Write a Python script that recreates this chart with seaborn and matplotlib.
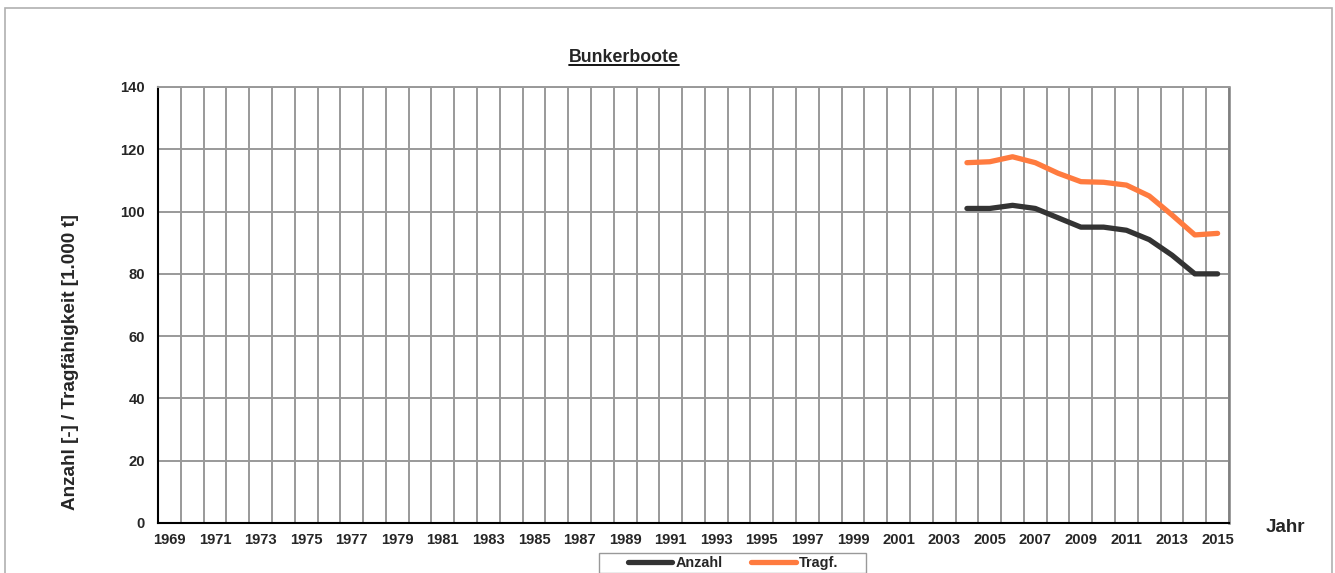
import pandas as pd
import seaborn as sns
import numpy as np
import matplotlib.pyplot as plt
from matplotlib import font_manager as fm
from matplotlib.patches import Rectangle

years = list(range(2004, 2016))
anzahl = [101, 101, 102, 101, 98, 95, 95, 94, 91, 86, 80, 80]
tragf = [115.7, 116.0, 117.6, 115.7, 112.3, 109.6, 109.4, 108.5, 105.0, 98.9, 92.5, 93.0]
label_years = list(range(1969, 2016, 2))
y_ticks = [0, 20, 40, 60, 80, 100, 120, 140]

df = pd.DataFrame({
    "Jahr": years * 2,
    "Wert": anzahl + tragf,
    "Reihe": ["Anzahl"] * len(years) + ["Tragf."] * len(years),
})

sns.set_style("white")

# pick the regular-width Liberation Sans bold file (not the Narrow one)
bold_file = None
for f in fm.findSystemFonts():
    if f.endswith("LiberationSans-Bold.ttf"):
        bold_file = f
        break
if bold_file:
    fm.fontManager.addfont(bold_file)
    fam = fm.FontProperties(fname=bold_file).get_name()
else:
    fam = "DejaVu Sans"
plt.rcParams["font.family"] = [fam, "DejaVu Sans"]
plt.rcParams["font.weight"] = "bold"


def fp(size):
    if bold_file:
        return fm.FontProperties(fname=bold_file, size=size)
    return fm.FontProperties(family="DejaVu Sans", weight="bold", size=size)


fig = plt.figure(figsize=(13.35, 5.73), dpi=100)
fig.patches.append(Rectangle((5 / 1335, -0.1), 1327 / 1335, 1.1 - 8 / 573,
                             transform=fig.transFigure, fill=False,
                             edgecolor="#b0b0b0", linewidth=1.2))
ax = fig.add_axes([158 / 1335, 1 - 523 / 573, 1071 / 1335, 436 / 573])

sns.lineplot(data=df, x="Jahr", y="Wert", hue="Reihe", ax=ax,
             palette={"Anzahl": "#333333", "Tragf.": "#ff7b3f"},
             linewidth=3.8, legend=False)
for line in ax.get_lines():
    line.set_solid_capstyle("round")
    line.set_solid_joinstyle("round")

ax.set_xlim(1968.5, 2015.5)
ax.set_ylim(0, 140)

# category boundaries carry the grid, labels sit in the middle of a year
ax.set_xticks(np.arange(1968.5, 2016, 1.0))
ax.set_xticklabels([])
ax.set_xticks(label_years, minor=True)
ax.set_xticklabels([str(y) for y in label_years], minor=True, fontproperties=fp(10.6))
ax.tick_params(axis="x", which="major", length=5, width=1.3, color="#999999",
               direction="out")
ax.tick_params(axis="x", which="minor", length=0, pad=7)

ax.set_yticks(y_ticks)
ax.set_yticklabels([str(v) for v in y_ticks], fontproperties=fp(10.6))
ax.tick_params(axis="y", length=5, width=1.3, color="#999999", direction="out", pad=4.5)

ax.grid(True, which="major", color="#999999", linewidth=1.4)
ax.set_axisbelow(True)

for side in ["left", "bottom"]:
    ax.spines[side].set_color("black")
    ax.spines[side].set_linewidth(1.5)
ax.spines["right"].set_color("#808080")
ax.spines["right"].set_linewidth(1.8)
ax.spines["top"].set_color("#999999")
ax.spines["top"].set_linewidth(1.4)

ax.set_xlabel("")
ax.set_ylabel("Anzahl [-] / Tragfähigkeit [1.000 t]", fontproperties=fp(13.6))
ax.yaxis.set_label_coords(-0.074, (523 - 362) / 436)

fig.text(624 / 1335, 1 - 57 / 573, "Bunkerboote", ha="center", va="center",
         fontproperties=fp(12.8))
fig.add_artist(plt.Line2D([569 / 1335, 679 / 1335], [1 - 65 / 573, 1 - 65 / 573],
                          color="black", linewidth=1.3))
fig.text(1285 / 1335, 1 - 528 / 573, "Jahr", ha="center", va="center",
         fontproperties=fp(13.5))

# legend box drawn separately so it can be wider than its entries
fig.patches.append(Rectangle((599 / 1335, 1 - 573 / 573), 267 / 1335, 20 / 573,
                             transform=fig.transFigure, fill=False,
                             edgecolor="#999999", linewidth=1.0))
handles = [plt.Line2D([], [], color="#333333", linewidth=3.8, solid_capstyle="round"),
           plt.Line2D([], [], color="#ff7b3f", linewidth=3.8, solid_capstyle="round")]
leg = fig.legend(handles, ["Anzahl", "Tragf."], loc="center",
                 bbox_to_anchor=(733 / 1335, 1 - 563 / 573), ncol=2,
                 frameon=False, handlelength=3.1,
                 handletextpad=0.2, columnspacing=2.0, borderpad=0.0,
                 borderaxespad=0, prop=fp(10.4))

plt.savefig("out.png", dpi=100)
